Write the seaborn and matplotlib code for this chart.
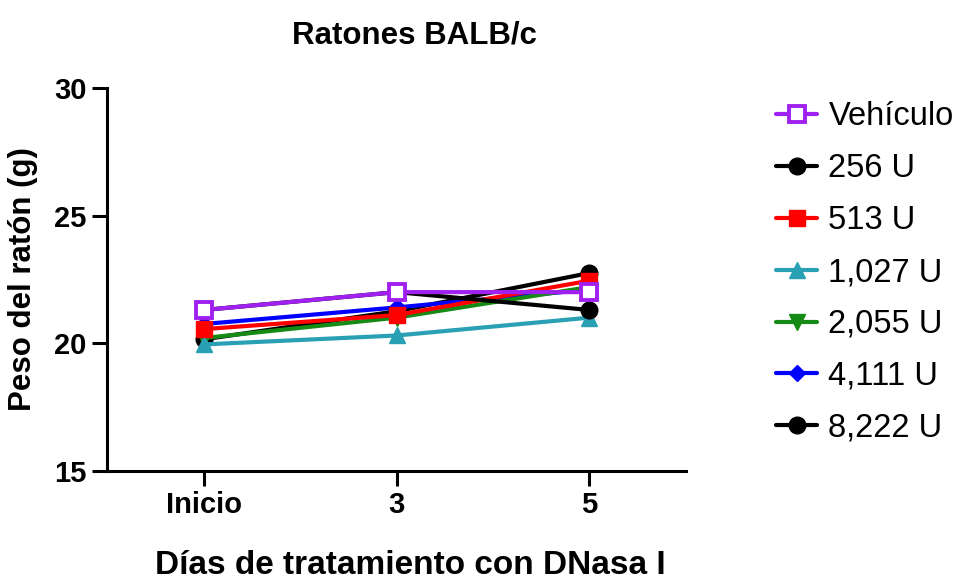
import matplotlib
matplotlib.use("Agg")
import matplotlib.pyplot as plt
import pandas as pd
import seaborn as sns

# values
dias = ["Inicio", "3", "5"]
grupos = ["Vehículo", "256 U", "513 U", "1,027 U", "2,055 U", "4,111 U", "8,222 U"]
vehiculo = [21.3, 22.0, 22.0]
u256 = [21.3, 22.0, 21.3]
u513 = [20.55, 21.1, 22.45]
u1027 = [19.95, 20.3, 21.0]
u2055 = [20.2, 21.0, 22.2]
u4111 = [20.75, 21.4, 22.1]
u8222 = [20.15, 21.25, 22.75]

pesos = [vehiculo, u256, u513, u1027, u2055, u4111, u8222]
colores = ["#A020F0", "black", "#FF0000", "#2AA0B4", "#158A15", "#0000FF", "black"]
marcadores = ["s", "o", "s", "^", "v", "D", "o"]
tamanos = [11, 12, 11, 12, 11, 8, 12]

rows = []
for g, vals in zip(grupos, pesos):
    for d, v in zip(dias, vals):
        rows.append({"Grupo": g, "Día": d, "Peso": v})
df = pd.DataFrame(rows)

sns.set_style("white")
plt.rcParams["font.family"] = ["Liberation Sans", "DejaVu Sans"]
plt.rcParams["text.color"] = "black"
plt.rcParams["axes.labelcolor"] = "black"

fig = plt.figure(figsize=(9.58, 5.79), dpi=100)
ax = fig.add_axes([0.112, 0.187, 0.604, 0.661])

# draw in reverse so Vehículo ends up on top
for i in reversed(range(len(grupos))):
    sub = df[df["Grupo"] == grupos[i]]
    face = "white" if grupos[i] == "Vehículo" else colores[i]
    sns.lineplot(data=sub, x="Día", y="Peso", ax=ax, color=colores[i], linewidth=3,
                 marker=marcadores[i], markersize=tamanos[i], markerfacecolor=face,
                 markeredgecolor=colores[i], markeredgewidth=2.8 if face == "white" else 1,
                 label=grupos[i], sort=False)

ax.set_ylim(15, 30)
ax.set_xlim(-0.5, 2.5)
ax.set_yticks([15, 20, 25, 30])
ax.set_xticks([0, 1, 2])
ax.set_xticklabels(dias)
for s in ["top", "right"]:
    ax.spines[s].set_visible(False)
for s in ["left", "bottom"]:
    ax.spines[s].set_linewidth(2.2)
    ax.spines[s].set_color("black")
ax.tick_params(axis="both", direction="out", length=11, width=2.2, colors="black",
               labelsize=21, bottom=True, left=True)
ax.tick_params(axis="x", pad=3.5)
ax.tick_params(axis="y", pad=4)
for lab in ax.get_xticklabels() + ax.get_yticklabels():
    lab.set_fontweight("bold")

ax.set_title("Ratones BALB/c", fontsize=22.5, fontweight="bold", pad=32, x=0.531)
ax.set_ylabel("Peso del ratón (g)", fontsize=22.5, fontweight="bold")
ax.set_xlabel("Días de tratamiento con DNasa I", fontsize=24, fontweight="bold")
ax.xaxis.set_label_coords(0.524, -0.206)
ax.yaxis.set_label_coords(-0.12, 0.5)

h, l = ax.get_legend_handles_labels()
order = [l.index(g) for g in grupos]
ax.legend([h[k] for k in order], [l[k] for k in order], loc="upper left",
          bbox_to_anchor=(1.156, 0.965), frameon=False, fontsize=23.5,
          borderaxespad=0, borderpad=0,
          labelspacing=0.64, handlelength=1.25, handletextpad=0.35)

fig.savefig("out.png", dpi=100)
